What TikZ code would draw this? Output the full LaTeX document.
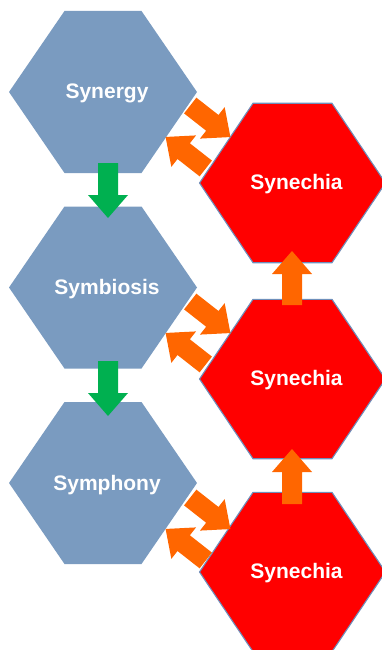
\documentclass[tikz,border=0pt]{standalone}
\usepackage{fontspec}
\setmainfont{Liberation Sans}
\usetikzlibrary{calc}

\definecolor{hexblue}{RGB}{122,155,192}
\definecolor{hexred}{RGB}{255,0,0}
\definecolor{hexedge}{RGB}{110,143,187}
\definecolor{arrorange}{RGB}{255,102,0}
\definecolor{arrgreen}{RGB}{0,176,80}

% block arrow from tail #2 to tip #3, filled with colour #1
\newcommand\blockarrow[3]{%
  \coordinate (hb) at ($(#3)!23pt!(#2)$);
  \fill[#1] ($(#2)!10pt!90:(#3)$) -- ($(hb)!10pt!90:(#3)$) -- ($(hb)!20pt!90:(#3)$)
    -- (#3) -- ($(hb)!20pt!-90:(#3)$) -- ($(hb)!10pt!-90:(#3)$) -- ($(#2)!10pt!-90:(#3)$) -- cycle;}

\tikzset{
  bluehex/.style={fill=hexblue},
  redhex/.style={fill=hexred, draw=hexedge, line width=1.1pt},
  hexlabel/.style={text=white, font=\bfseries\fontsize{21}{25}\selectfont, anchor=base, inner sep=0pt},
}

\begin{document}
\begin{tikzpicture}[x=1pt, y=-1pt]
  \useasboundingbox (0,0) rectangle (382,650);
  \clip (0,0) rectangle (382,650);

  % hexagon centres
  \coordinate (b1) at (103,92);
  \coordinate (b2) at (103,287.5);
  \coordinate (b3) at (103,483);
  \coordinate (r1) at (292.5,183);
  \coordinate (r2) at (292.5,379);
  \coordinate (r3) at (292.5,572);

  % blue hexagons
  \foreach \c in {b1,b2,b3}
    \fill[bluehex] (\c) ++(-94,0) -- ++(55.5,-81) -- ++(77,0) -- ++(55.5,81)
      -- ++(-55.5,81) -- ++(-77,0) -- cycle;

  % red hexagons
  \foreach \c in {r1,r2,r3}
    \filldraw[redhex] (\c) ++(-93,0) -- ++(53.5,-79.7) -- ++(79,0) -- ++(53.5,79.7)
      -- ++(-53.5,79.7) -- ++(-79,0) -- cycle;

  % green arrows down the blue column
  \coordinate (g1t) at (108,163);  \coordinate (g1h) at (108,218);
  \coordinate (g2t) at (108,361);  \coordinate (g2h) at (108,416);
  \blockarrow{arrgreen}{g1t}{g1h}
  \blockarrow{arrgreen}{g2t}{g2h}

  % orange arrows up the red column
  \coordinate (u1t) at (292,305);  \coordinate (u1h) at (292,251);
  \coordinate (u2t) at (292,504);  \coordinate (u2h) at (292,449);
  \blockarrow{arrorange}{u1t}{u1h}
  \blockarrow{arrorange}{u2t}{u2h}

  % paired diagonal arrows between the columns
  \foreach \p [count=\i] in {137,333,529} {
    \coordinate (d\i at) at ($(198,\p)+(-7.77,-31.47)$);
    \coordinate (d\i ah) at ($(198,\p)+(32.41,0.05)$);
    \coordinate (d\i bt) at ($(198,\p)+(7.77,31.47)$);
    \coordinate (d\i bh) at ($(198,\p)+(-32.41,-0.05)$);
    \blockarrow{arrorange}{d\i at}{d\i ah}
    \blockarrow{arrorange}{d\i bt}{d\i bh}
  }

  % labels
  \node[hexlabel] (synergy)   at ([shift={(4,7)}]b1) {Synergy};
  \node[hexlabel] (symbiosis) at ([shift={(4,7)}]b2) {Symbiosis};
  \node[hexlabel] (symphony)  at ([shift={(4,7)}]b3) {Symphony};
  \node[hexlabel] (synechia1) at ([shift={(4,6.5)}]r1) {Synechia};
  \node[hexlabel] (synechia2) at ([shift={(4,6.5)}]r2) {Synechia};
  \node[hexlabel] (synechia3) at ([shift={(4,6.5)}]r3) {Synechia};
\end{tikzpicture}
\end{document}
